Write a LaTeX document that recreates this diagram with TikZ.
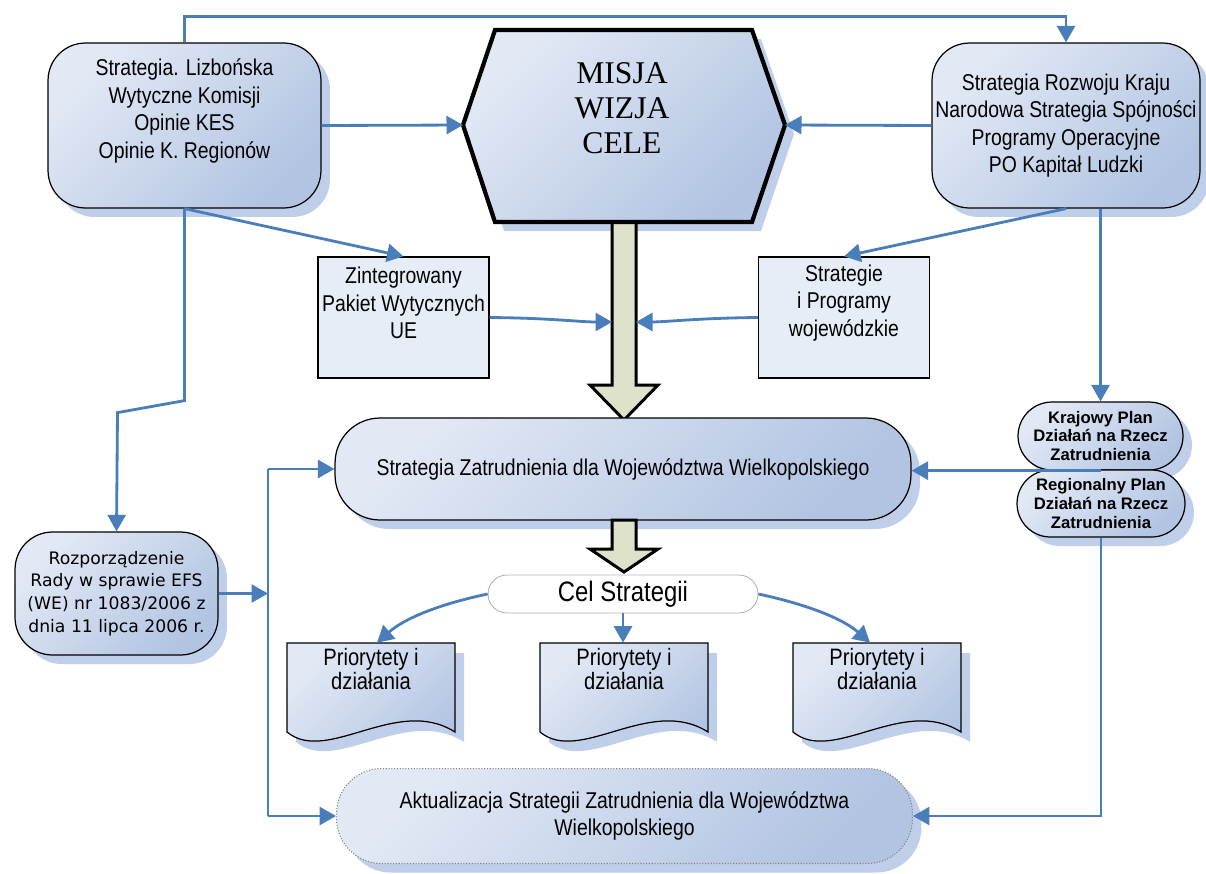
\documentclass[tikz,border=0pt]{standalone}
\usepackage{fontspec}
\newfontfamily\nar[FakeStretch=0.85]{Liberation Sans}
\newfontfamily\ari{Liberation Sans}
\newfontfamily\tah{DejaVu Sans}
\newfontfamily\ser{Liberation Serif}
\usetikzlibrary{shapes.misc,shadows,arrows.meta,calc}

\definecolor{lb}{RGB}{74,126,187}
\definecolor{gl}{RGB}{226,233,245}
\definecolor{gd}{RGB}{178,196,226}
\definecolor{shc}{RGB}{192,207,233}
\definecolor{pale}{RGB}{230,237,247}
\definecolor{olive}{RGB}{222,226,203}

\newcommand\docbox[3]{%
  \begin{scope}[shift={(#2,#3)}]
    \fill[shc,shift={(9,10)}] (0,0) -- (168,0) -- (168,89) .. controls (110,52) and (40,122) .. (0,89) -- cycle;
    \draw[grad, line width=0.7pt] (0,0) -- (168,0) -- (168,89) .. controls (110,52) and (40,122) .. (0,89) -- cycle;
    \node[ptext] at (84,26) {Priorytety i\\działania};
  \end{scope}
  \node[inner sep=0pt, minimum width=3.36cm, minimum height=1.78cm] (#1) at (#2+84,#3+44.5) {};
}

\begin{document}
\begin{tikzpicture}[x=0.02cm,y=-0.02cm,
  grad/.style={top color=gl, bottom color=gd, shading angle=45},
  shad/.style={drop shadow={shadow xshift=0.18cm,shadow yshift=-0.18cm,fill=shc,opacity=1}},
  bluebox/.style={grad, shad, draw=black, line width=0.7pt},
  conn/.style={draw=lb, line width=1.6pt},
  arr/.style={conn, -{Triangle[length=0.33cm,width=0.36cm]}},
  ntext/.style={font=\nar\fontsize{13}{15.6}\selectfont, align=center, inner sep=0pt},
  ptext/.style={font=\nar\fontsize{13.5}{13.2}\selectfont, align=center, inner sep=0pt},
]
\useasboundingbox (0,0) rectangle (1206,873);

% top boxes
\node[bluebox, rounded corners=0.75cm, minimum width=5.46cm, minimum height=3.3cm] (tl) at (184.5,125.5) {};
\node[ntext] (tlt) at (184.5,111) {Strategia. Lizbońska\\Wytyczne Komisji\\Opinie KES\\Opinie K. Regionów};
\node[bluebox, rounded corners=0.75cm, minimum width=5.36cm, minimum height=3.3cm, ntext] (tr) at (1066,125.5) {Strategia Rozwoju Kraju\\Narodowa Strategia Spójności\\Programy Operacyjne\\PO Kapitał Ludzki};

% hexagon
\coordinate (hL) at (463,125);
\coordinate (hR) at (785,125);
\coordinate (hB) at (624,222);
\fill[shc, shift={(9,9)}] (495,30) -- (752,30) -- (785,125) -- (752,222) -- (495,222) -- (463,125) -- cycle;
\draw[fill=olive, line width=1.7pt, line join=miter] (612,222) -- (636,222) -- (636,385) -- (658,385) -- (624,420) -- (590,385) -- (612,385) -- cycle;
\draw[grad, line width=2.4pt, line join=miter] (495,30) -- (752,30) -- (hR) -- (752,222) -- (495,222) -- (hL) -- cycle;
\node[font=\ser\fontsize{18}{19.8}\selectfont, align=center, inner sep=0pt] (hext) at (622,108) {MISJA\\WIZJA\\CELE};
\coordinate (shL) at (612,322);
\coordinate (shR) at (636,322);

% middle rectangles
\node[draw=black, fill=pale, line width=0.7pt, minimum width=3.42cm, minimum height=2.42cm] (zi) at (403.5,317.5) {};
\node[ntext] (zit) at (403.5,303) {Zintegrowany\\Pakiet Wytycznych\\UE};
\node[draw=black, fill=pale, line width=0.7pt, minimum width=3.42cm, minimum height=2.42cm] (st) at (844,317.5) {};
\node[ntext] (stt) at (844,303) {Strategie\\i Programy\\wojewódzkie};

% strategy box
\node[bluebox, rounded corners=0.9cm, minimum width=11.52cm, minimum height=2.04cm, ntext] (sz) at (623,469) {Strategia Zatrudnienia dla Województwa Wielkopolskiego};

% right small boxes
\node[bluebox, rounded rectangle, minimum width=3.3cm, minimum height=1.36cm, font=\ari\bfseries\fontsize{9.5}{10.8}\selectfont, align=center, inner sep=0pt] (kr) at (1100.5,436) {Krajowy Plan\\Działań na Rzecz\\Zatrudnienia};
\node[bluebox, rounded rectangle, minimum width=3.36cm, minimum height=1.34cm, font=\ari\bfseries\fontsize{9.5}{10.8}\selectfont, align=center, inner sep=0pt] (rg) at (1101,503.5) {Regionalny Plan\\Działań na Rzecz\\Zatrudnienia};

% left box
\node[bluebox, rounded corners=0.75cm, minimum width=4.06cm, minimum height=2.46cm, font=\tah\fontsize{9.8}{13}\selectfont, align=center, inner sep=0pt] (rz) at (116.5,593.5) {Rozporządzenie\\Rady w sprawie EFS\\(WE) nr 1083/2006 z\\dnia 11 lipca 2006 r.};

% second block arrow
\draw[fill=olive, line width=1.7pt, line join=miter] (612,520) -- (636,520) -- (636,549) -- (658,549) -- (624,572) -- (590,549) -- (612,549) -- cycle;

% Cel strategii
\node[rounded rectangle, draw=gray!60, fill=white, line width=0.5pt, minimum width=5.4cm, minimum height=0.76cm, font=\nar\fontsize{16}{18}\selectfont, inner sep=0pt] (cs) at (623,594) {Cel Strategii};

% documents
\docbox{p1}{287}{643}
\docbox{p2}{540}{643}
\docbox{p3}{793}{643}

% update box
\node[grad, shad, draw=gray, densely dotted, line width=0.6pt, rounded corners=0.9cm, minimum width=11.52cm, minimum height=1.9cm, ntext] (ak) at (624.5,816) {Aktualizacja Strategii Zatrudnienia dla Województwa\\Wielkopolskiego};

% connectors
\coordinate (vl) at (268,593);
\draw[arr] (tl.north) -- ++(0,-26) -| (tr.north);
\draw[arr] (tl.east) -- (hL);
\draw[arr] (tr.west) -- (hR);
\draw[arr] (tl.south) -- (zi.north);
\draw[arr] (tl.south) -- ++(0,192) -- ++(-67,12) -- (rz.north);
\draw[arr] (zi.east) .. controls (550,318) and (580,322) .. (shL);
\draw[arr] (st.west) .. controls (700,318) and (665,322) .. (shR);
\draw[arr] (tr.south) -- (st.north);
\draw[arr] (tr.south -| kr.north) -- (kr.north);
\draw[arr] (kr.south) -- (kr.south -| sz.east);
\draw[arr] (rg.south) |- (ak.east);
\draw[arr] (rz.east) -- (rz.east -| vl);
\draw[conn] (sz.west -| vl) -- (ak.west -| vl);
\draw[arr] (sz.west -| vl) -- (sz.west);
\draw[arr] (ak.west -| vl) -- (ak.west);
\draw[arr] (cs.west) .. controls (440,604) and (405,618) .. ($(p1.north)+(6,0)$);
\draw[arr] (cs.south) -- (cs.south |- p2.north);
\draw[arr] (cs.east) .. controls (805,604) and (842,618) .. ($(p3.north)+(-7,0)$);
\end{tikzpicture}
\end{document}
